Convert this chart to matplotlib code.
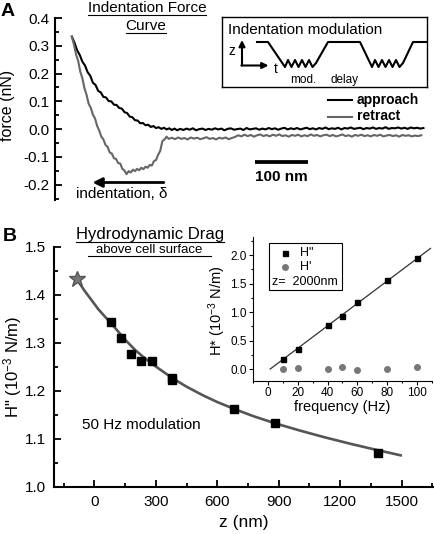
import matplotlib
matplotlib.use('Agg')
import matplotlib.pyplot as plt
import numpy as np
from matplotlib.lines import Line2D
from matplotlib.patches import Rectangle
from matplotlib.ticker import MultipleLocator, FormatStrFormatter

plt.rcParams['font.family'] = ['Liberation Sans', 'DejaVu Sans']
plt.rcParams['axes.unicode_minus'] = False
plt.rcParams['mathtext.fontset'] = 'custom'
plt.rcParams['mathtext.rm'] = 'Liberation Sans'
plt.rcParams['mathtext.default'] = 'regular'

# ---- panel A: force curves (x in nm, force in nN) ----
approach_x = np.concatenate([np.arange(0, 201, 5), np.arange(206, 669, 6)])
approach_y = [0.333, 0.311, 0.284, 0.267, 0.243, 0.229, 0.205, 0.192, 0.167, 0.159,
              0.138, 0.132, 0.116, 0.114, 0.101, 0.100, 0.088, 0.087, 0.076, 0.074,
              0.061, 0.058, 0.045, 0.043, 0.032, 0.031, 0.021, 0.022, 0.014, 0.016,
              0.008, 0.011, 0.004, 0.007, 0.001, 0.005, -0.001, 0.003, -0.003, 0.002,
              -0.004,
              0.001, -0.003, 0.002, -0.002, 0.003, -0.004, 0.000, 0.002, -0.003, 0.001,
              -0.002, 0.003, -0.001, 0.002, -0.004, 0.001, 0.003, -0.002, 0.000, 0.002,
              -0.003, 0.004, -0.001, 0.001, 0.003, -0.002, 0.002, -0.001, 0.004, 0.000,
              0.003, -0.002, 0.002, 0.005, -0.001, 0.003, 0.000, 0.004, -0.001, 0.002,
              0.005, 0.000, 0.003, -0.001, 0.004, 0.001, 0.006, 0.000, 0.003, 0.001,
              0.005, -0.001, 0.004, 0.002, 0.006, 0.001, 0.003, 0.005, 0.000, 0.004,
              0.002, 0.006, 0.001, 0.004, 0.002, 0.007, 0.001, 0.004, 0.003, 0.006,
              0.002, 0.005, 0.001, 0.006, 0.003, 0.005, 0.002, 0.004]

retract_x = np.concatenate([np.arange(0, 185, 4), np.arange(190, 311, 6), np.arange(316, 665, 6)])
retract_y = [0.333, 0.304, 0.269, 0.246, 0.207, 0.183, 0.147, 0.123, 0.091, 0.077,
             0.052, 0.039, 0.012, -0.005, -0.027, -0.037, -0.057, -0.064, -0.084, -0.088,
             -0.105, -0.107, -0.122, -0.124, -0.143, -0.149, -0.162, -0.151, -0.156, -0.146,
             -0.151, -0.143, -0.148, -0.139, -0.144, -0.135, -0.139, -0.129, -0.131, -0.115,
             -0.111, -0.092, -0.078, -0.043, -0.037, -0.027, -0.035,
             -0.031, -0.036, -0.030, -0.035, -0.032, -0.037, -0.030, -0.034, -0.031, -0.036,
             -0.033, -0.029, -0.035, -0.032, -0.037, -0.031, -0.034, -0.030, -0.036, -0.032,
             -0.028,
             -0.022, -0.026, -0.020, -0.025, -0.021, -0.027, -0.022, -0.019, -0.025, -0.021,
             -0.026, -0.020, -0.024, -0.019, -0.025, -0.022, -0.027, -0.021, -0.024, -0.020,
             -0.026, -0.022, -0.025, -0.019, -0.024, -0.021, -0.026, -0.022, -0.020, -0.025,
             -0.021, -0.026, -0.023, -0.019, -0.025, -0.022, -0.027, -0.021, -0.024, -0.020,
             -0.025, -0.022, -0.026, -0.021, -0.024, -0.020, -0.026, -0.023, -0.021, -0.025,
             -0.022, -0.027, -0.021, -0.024, -0.022, -0.026, -0.023, -0.025, -0.022]
scale_bar_nm = 100

# schematic of the modulation protocol (box units)
wave_t = [35, 46, 63, 66, 69.5, 73, 76.5, 80, 83.5, 87, 90.5, 94, 106,
          138, 150, 153, 156.5, 160, 163.5, 167, 170.5, 174, 177.5, 181, 191, 205]
wave_z = [45, 45, 20, 27, 20, 27, 20, 27, 20, 27, 20, 24, 45,
          45, 20, 27, 20, 27, 20, 27, 20, 27, 20, 24, 45, 45]

# ---- panel B: hydrodynamic drag ----
z_nm = [80, 130, 180, 230, 280, 380, 380, 682, 883, 1385]
h_loss = [1.343, 1.310, 1.278, 1.262, 1.262, 1.227, 1.222, 1.162, 1.133, 1.070]
star_z, star_h = [-85], [1.433]
fit_z = [-85, -50, -20, 20, 60, 100, 150, 200, 250, 300, 380, 450, 530, 600,
         680, 780, 880, 1000, 1120, 1250, 1380, 1495]
fit_h = [1.433, 1.410, 1.393, 1.370, 1.351, 1.332, 1.307, 1.285, 1.267, 1.251, 1.227,
         1.209, 1.191, 1.177, 1.163, 1.147, 1.133, 1.118, 1.104, 1.090, 1.077, 1.066]

freq = [10, 20, 40, 50, 60, 80, 100]
h_dprime = [0.18, 0.36, 0.77, 0.94, 1.17, 1.56, 1.95]
h_prime = [0.00, 0.02, 0.00, 0.04, -0.01, 0.00, 0.04]
line_f = [1.5, 109]
line_h = [0.0, 2.12]

W, H = 435, 534
fig = plt.figure(figsize=(W / 100, H / 100), dpi=100)


def fx(px):
    return px / W


def fy(py):
    return 1 - py / H


# ---------------- panel A ----------------
ax_a = fig.add_axes([fx(55), fy(200), fx(425) - fx(55), fy(18) - fy(200)])
ax_a.plot(approach_x, approach_y, color='black', lw=1.5)
ax_a.plot(retract_x, retract_y, color='#666666', lw=1.5)
ax_a.set_xlim(-32, 671)
ax_a.set_ylim(-0.255, 0.4)
for s in ['top', 'right', 'bottom']:
    ax_a.spines[s].set_visible(False)
ax_a.spines['left'].set_linewidth(1.5)
ax_a.set_xticks([])
ax_a.yaxis.set_major_locator(MultipleLocator(0.1))
ax_a.yaxis.set_minor_locator(MultipleLocator(0.05))
ax_a.yaxis.set_major_formatter(FormatStrFormatter('%.1f'))
ax_a.tick_params(axis='y', which='major', direction='in', length=5, width=1.3, labelsize=11, pad=4)
ax_a.tick_params(axis='y', which='minor', direction='in', length=3, width=1.3)
ax_a.set_ylabel('force (nN)', fontsize=11.5)
ax_a.yaxis.set_label_coords(-0.108, 0.52)

# indentation arrow
ax_a.annotate('', xy=(34, -0.192), xytext=(180, -0.192),
              arrowprops=dict(arrowstyle='-|>', color='black', lw=2, mutation_scale=14))
ax_a.text(95, -0.234, 'indentation, δ', ha='center', va='center', fontsize=11)

# scale bar
ax_a.plot([348, 348 + scale_bar_nm], [-0.119, -0.119], color='black', lw=2.7, solid_capstyle='butt')
ax_a.text(348 + scale_bar_nm / 2, -0.172, f'{scale_bar_nm} nm', ha='center', va='center',
          fontsize=11, fontweight='bold')

# legend for panel A
fig.add_artist(Line2D([fx(328), fx(352)], [fy(100), fy(100)], color='black', lw=1.5,
                      transform=fig.transFigure))
fig.add_artist(Line2D([fx(328), fx(352)], [fy(116.5), fy(116.5)], color='#666666', lw=1.5,
                      transform=fig.transFigure))
fig.text(fx(357), fy(100), 'approach', fontsize=10, fontweight='bold', va='center')
fig.text(fx(357), fy(116), 'retract', fontsize=10, fontweight='bold', va='center')

# modulation schematic box
ax_box = fig.add_axes([fx(222), fy(87), fx(427) - fx(222), fy(17) - fy(87)])
ax_box.set_xlim(0, 205)
ax_box.set_ylim(0, 70)
ax_box.set_xticks([])
ax_box.set_yticks([])
for s in ax_box.spines.values():
    s.set_linewidth(1.0)
ax_box.plot(wave_t, wave_z, color='black', lw=1.5, solid_joinstyle='round')
ax_box.text(6.3, 57.5, 'Indentation modulation', fontsize=11, va='center')
ax_box.annotate('', xy=(20, 47), xytext=(20, 21.5),
                arrowprops=dict(arrowstyle='-|>', color='black', lw=1.5, mutation_scale=9,
                                shrinkA=0, shrinkB=0))
ax_box.annotate('', xy=(46.5, 21.5), xytext=(19.3, 21.5),
                arrowprops=dict(arrowstyle='-|>', color='black', lw=1.5, mutation_scale=9,
                                shrinkA=0, shrinkB=0))
ax_box.text(10, 36, 'z', fontsize=10, ha='center', va='center')
ax_box.text(54, 18, 't', fontsize=10, ha='center', va='center')
ax_box.text(81, 7, 'mod.', fontsize=8.5, ha='center', va='center')
ax_box.text(122.5, 7, 'delay', fontsize=8.5, ha='center', va='center')

# ---------------- panel B ----------------
ax_b = fig.add_axes([fx(54), fy(487), fx(433) - fx(54), fy(247) - fy(487)])
ax_b.plot(fit_z, fit_h, color='#555555', lw=1.9, zorder=2)
ax_b.plot(z_nm, h_loss, 's', color='black', markersize=5.5, zorder=3)
ax_b.plot(star_z, star_h, '*', color='#777777', markeredgecolor='#555555', markersize=12, zorder=3)
ax_b.set_xlim(-197, 1653)
ax_b.set_ylim(1.0, 1.5)
for s in ['top', 'right']:
    ax_b.spines[s].set_visible(False)
for s in ['left', 'bottom']:
    ax_b.spines[s].set_linewidth(1.5)
ax_b.xaxis.set_major_locator(MultipleLocator(300))
ax_b.xaxis.set_minor_locator(MultipleLocator(150))
ax_b.yaxis.set_major_locator(MultipleLocator(0.1))
ax_b.yaxis.set_minor_locator(MultipleLocator(0.05))
ax_b.yaxis.set_major_formatter(FormatStrFormatter('%.1f'))
ax_b.tick_params(which='major', direction='in', length=5, width=1.3, labelsize=11, pad=5.5)
ax_b.tick_params(which='minor', direction='in', length=3, width=1.3)
ax_b.set_xlabel('z (nm)', fontsize=12.5)
ax_b.xaxis.set_label_coords(0.5, -0.115)
ax_b.set_ylabel('H" (10$^{-3}$ N/m)', fontsize=12)
ax_b.yaxis.set_label_coords(-0.078, 0.5)
ax_b.text(-60, 1.129, '50 Hz modulation', fontsize=11, va='center')

# inset: frequency dependence
ax_i = fig.add_axes([fx(253), fy(381), fx(432) - fx(253), fy(237) - fy(381)])
ax_i.patch.set_alpha(0)
ax_i.plot(line_f, line_h, color='#333333', lw=0.9, zorder=2)
ax_i.plot(freq, h_dprime, 's', color='black', markersize=3.6, zorder=3)
ax_i.plot(freq, h_prime, 'o', color='#777777', markersize=4, zorder=3)
ax_i.set_xlim(-10, 110)
ax_i.set_ylim(-0.21, 2.32)
for s in ['top', 'right']:
    ax_i.spines[s].set_visible(False)
for s in ['left', 'bottom']:
    ax_i.spines[s].set_linewidth(0.8)
ax_i.xaxis.set_major_locator(MultipleLocator(20))
ax_i.xaxis.set_minor_locator(MultipleLocator(10))
ax_i.yaxis.set_major_locator(MultipleLocator(0.5))
ax_i.yaxis.set_minor_locator(MultipleLocator(0.25))
ax_i.yaxis.set_major_formatter(FormatStrFormatter('%.1f'))
ax_i.tick_params(which='major', direction='out', length=3, width=0.8, labelsize=8.5, pad=1.5)
ax_i.tick_params(which='minor', direction='out', length=1.5, width=0.8)
ax_i.set_xlabel('frequency (Hz)', fontsize=10.5)
ax_i.xaxis.set_label_coords(0.497, -0.13)
ax_i.set_ylabel('H* (10$^{-3}$ N/m)', fontsize=10.5)
ax_i.yaxis.set_label_coords(-0.142, 0.49)

# inset legend box
ax_i.add_patch(Rectangle((0.089, 0.632), 0.408, 0.326, transform=ax_i.transAxes,
                         facecolor='white', edgecolor='black', lw=0.8, clip_on=False, zorder=4))
ax_i.plot([0.179], [0.889], 's', color='black', markersize=3.6, transform=ax_i.transAxes,
          clip_on=False, zorder=5)
ax_i.plot([0.179], [0.792], 'o', color='#777777', markersize=4, transform=ax_i.transAxes,
          clip_on=False, zorder=5)
ax_i.text(0.263, 0.889, 'H"', fontsize=9, va='center', transform=ax_i.transAxes, zorder=5)
ax_i.text(0.263, 0.792, "H'", fontsize=9, va='center', transform=ax_i.transAxes, zorder=5)
ax_i.text(0.104, 0.688, 'z=  2000nm', fontsize=9, va='center', transform=ax_i.transAxes, zorder=5)

# ---------------- labels and underlined titles ----------------
fig.text(fx(1), fy(12), 'A', fontsize=14, fontweight='bold', va='center')
fig.text(fx(3), fy(236.5), 'B', fontsize=14, fontweight='bold', va='center')

titles = [
    (147, 12, 'Indentation Force', 11, 0),
    (146, 30, 'Curve', 11, 0),
    (150, 239.5, 'Hydrodynamic Drag', 12, 0),
    (149.5, 253, 'above cell surface', 9.5, 8),
]
title_texts = []
for x, y, s, size, extra in titles:
    t = fig.text(fx(x), fy(y), s, fontsize=size, ha='center', va='baseline')
    title_texts.append((t, y, extra))

fig.canvas.draw()
renderer = fig.canvas.get_renderer()
for t, y, extra in title_texts:
    bb = t.get_window_extent(renderer)
    fig.add_artist(Line2D([(bb.x0 - extra) / W, (bb.x1 + extra) / W], [fy(y + 2.5), fy(y + 2.5)],
                          color='black', lw=0.8, transform=fig.transFigure))

fig.savefig('out.png', dpi=100)
